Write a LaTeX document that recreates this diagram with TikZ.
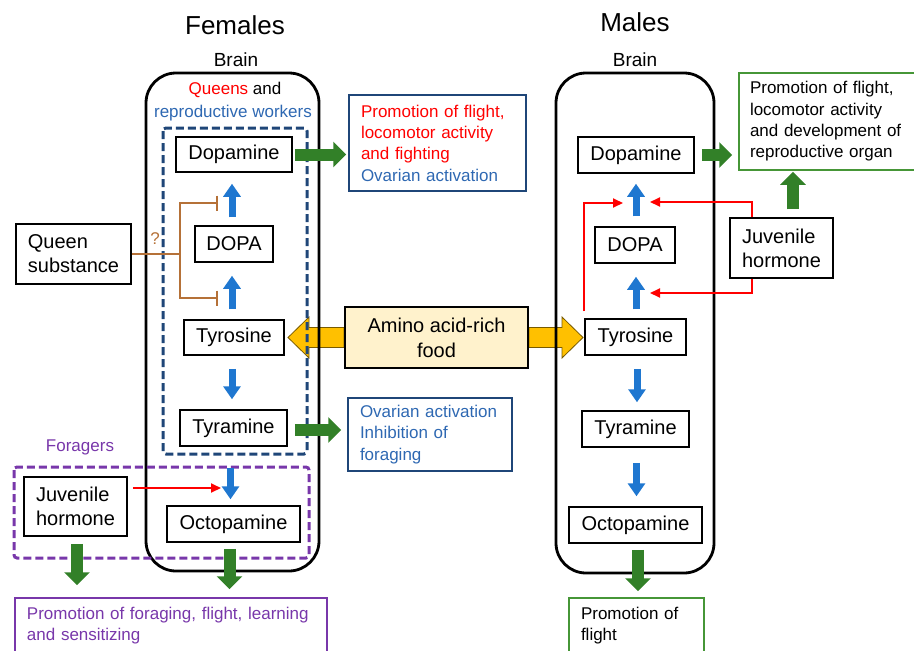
\documentclass[tikz,border=0pt]{standalone}
\usepackage{fontspec}
\setmainfont{Liberation Sans}
\usetikzlibrary{arrows.meta,backgrounds}
\definecolor{blueA}{RGB}{31,119,208}
\definecolor{greenA}{RGB}{50,128,40}
\definecolor{greenB}{RGB}{70,150,55}
\definecolor{navy}{RGB}{31,70,120}
\definecolor{bluetext}{RGB}{46,104,178}
\definecolor{purpleA}{RGB}{120,55,170}
\definecolor{brownC}{RGB}{181,113,56}
\definecolor{foodfill}{RGB}{255,242,204}
\definecolor{yellowA}{RGB}{255,192,0}
\begin{document}
\begin{tikzpicture}[x=1pt,y=-1pt,
  box/.style={draw=black, line width=1.5pt, font=\fontsize{20}{24}\selectfont, inner sep=0pt, align=center},
  lbox/.style={box, align=left},
  effbox/.style={line width=1.5pt, font=\fontsize{17}{21.3}\selectfont, align=left, inner xsep=12pt, inner ysep=0pt},
  brain/.style={draw=black, line width=2.8pt, rounded corners=30pt, inner sep=0pt},
  groupbox/.style={line width=3pt, dash pattern=on 8pt off 4pt, rounded corners=3pt},
  bluearrow/.style={draw=blueA, line width=7pt, -{Triangle[width=17pt,length=13pt]}},
  greenarrow/.style={draw=greenA, line width=12pt, -{Triangle[width=25pt,length=13pt]}},
  redarrow/.style={draw=red, line width=2pt, -{Triangle[width=9pt,length=10pt]}},
  brownline/.style={draw=brownC, line width=2.4pt},
  brownbar/.style={brownline, -{Bar[width=15pt]}},
  yarrow/.style={draw={rgb,255:red,120;green,90;blue,0}, line width=0.8pt, fill=yellowA},
  title/.style={font=\fontsize{26}{30}\selectfont},
  small/.style={font=\fontsize{17}{21}\selectfont},
  brainlbl/.style={font=\fontsize{19}{22}\selectfont}
]
\useasboundingbox (0,0) rectangle (914,651);

% titles
\node[title] (femT) at (235,25) {Females};
\node[title] (malT) at (635,22) {Males};
\node[brainlbl] (brLT) at (236,60) {Brain};
\node[brainlbl] (brRT) at (635,60) {Brain};

% brains
\node[brain, minimum width=173pt, minimum height=498pt] (brainL) at (232.5,322) {};
\node[brain, minimum width=158pt, minimum height=500pt] (brainR) at (635,323) {};

% group labels
\node[small] (queensL) at (235,90) {\textcolor{red}{Queens} and};
\node[small, text=bluetext] (repL) at (233,113) {reproductive workers};
\node[small, text=purpleA] (forL) at (80,447) {Foragers};
\node[small, text=brownC] (qmark) at (155,239) {?};

% dashed groups
\draw[groupbox, navy] (163,128) rectangle (307,454);
\draw[groupbox, purpleA] (14,467) rectangle (309,558);

% left column
\node[box, minimum width=116pt, minimum height=35pt] (dopeL) at (234,154.5) {Dopamine};
\node[box, minimum width=78pt, minimum height=36pt] (dopaL) at (234,244) {DOPA};
\node[box, minimum width=100pt, minimum height=35pt] (tyrL) at (234,337.5) {Tyrosine};
\node[box, minimum width=107pt, minimum height=36pt] (tyraL) at (233.5,428) {Tyramine};
\node[box, minimum width=133pt, minimum height=36pt] (octL) at (233.5,524) {Octopamine};
\node[lbox, minimum width=115pt, minimum height=60pt] (qs) at (73.5,254) {Queen\\substance};
\node[lbox, minimum width=103pt, minimum height=59pt] (jhL) at (75.5,506.5) {Juvenile\\hormone};

% right column
\node[box, minimum width=116pt, minimum height=36pt] (dopeR) at (636,155) {Dopamine};
\node[box, minimum width=80pt, minimum height=36pt] (dopaR) at (635,245) {DOPA};
\node[box, minimum width=101pt, minimum height=36pt] (tyrR) at (635.5,337) {Tyrosine};
\node[box, minimum width=107pt, minimum height=36pt] (tyraR) at (635.5,429) {Tyramine};
\node[box, minimum width=133pt, minimum height=36pt] (octR) at (635.5,525) {Octopamine};
\node[lbox, minimum width=103pt, minimum height=60pt] (jhR) at (781.5,248) {Juvenile\\hormone};

% food
\node[box, fill=foodfill, line width=2pt, minimum width=183pt, minimum height=61pt, font=\fontsize{20}{25}\selectfont] (food) at (436.5,337.5) {Amino acid-rich\\food};

% effect boxes
\node[effbox, draw=navy, text width=153pt, minimum height=96pt] (effD) at (437.5,143)
  {\textcolor{red}{Promotion of flight,}\\\textcolor{red}{locomotor activity}\\\textcolor{red}{and fighting}\\\textcolor{bluetext}{Ovarian activation}};
\node[effbox, draw=navy, text width=140pt, minimum height=73pt, text=bluetext] (effT) at (430,434.5)
  {Ovarian activation\\Inhibition of\\foraging};
\node[effbox, draw=greenB, inner xsep=11pt, text width=162pt, minimum height=97pt] (effM) at (831,121.5)
  {Promotion of flight,\\locomotor activity\\and development of\\reproductive organ};
\node[effbox, draw=purpleA, text=purpleA, text width=288pt, minimum height=55pt] (effF) at (171,625.5)
  {Promotion of foraging, flight, learning\\and sensitizing};
\node[effbox, draw=greenB, text width=111pt, minimum height=55pt] (effO) at (636.5,625.5)
  {Promotion of\\flight};

% yellow arrows (behind)
\begin{scope}[on background layer]
\draw[yarrow] (food.west) ++(0,-10) -- ++(-35,0) -- ++(0,-10.5) -- ++(-21,20.5) -- ++(21,20.5) -- ++(0,-10.5) -- ++(35,0) -- cycle;
\draw[yarrow] (food.east) ++(0,-10) -- ++(33,0) -- ++(0,-10.5) -- ++(21,20.5) -- ++(-21,20.5) -- ++(0,-10.5) -- ++(-33,0) -- cycle;
\end{scope}

% blue arrows left
\draw[bluearrow, shorten <=8pt, shorten >=11pt] ([xshift=-2pt]dopaL.north) -- ([xshift=-2pt]dopaL.north |- dopeL.south);
\draw[bluearrow, shorten <=10pt, shorten >=13pt] ([xshift=-2pt]tyrL.north) -- ([xshift=-2pt]tyrL.north |- dopaL.south);
\draw[bluearrow, shorten <=13pt, shorten >=10pt] ([xshift=-2pt]tyrL.south) -- ([xshift=-2pt]tyrL.south |- tyraL.north);
\draw[bluearrow, shorten <=21pt, shorten >=6pt] ([xshift=-3pt]tyraL.south) -- ([xshift=-3pt]tyraL.south |- octL.north);

% blue arrows right
\draw[bluearrow, shorten <=10pt, shorten >=10pt] ([xshift=1pt]dopaR.north) -- ([xshift=1pt]dopaR.north |- dopeR.south);
\draw[bluearrow, shorten <=9pt, shorten >=13pt] ([xshift=0.5pt]tyrR.north) -- ([xshift=0.5pt]tyrR.north |- dopaR.south);
\draw[bluearrow, shorten <=13pt, shorten >=8pt] ([xshift=1.5pt]tyrR.south) -- ([xshift=1.5pt]tyrR.south |- tyraR.north);
\draw[bluearrow, shorten <=15pt, shorten >=10pt] ([xshift=1pt]tyraR.south) -- ([xshift=1pt]tyraR.south |- octR.north);

% green arrows
\draw[greenarrow, shorten <=2pt, shorten >=2pt] (dopeL.east) -- (dopeL.east -| effD.west);
\draw[greenarrow, shorten <=7pt, shorten >=6pt] ([yshift=-2pt]tyraL.east) -- ([yshift=-2pt]tyraL.east -| effT.west);
\draw[greenarrow, shorten <=6pt, shorten >=8pt] ([xshift=-4pt]octL.south) -- ([xshift=-4pt]octL.south |- effF.north);
\draw[greenarrow, shorten <=7pt, shorten >=12pt] ([xshift=1.5pt]jhL.south) -- ([xshift=1.5pt]jhL.south |- effF.north);
\draw[greenarrow, shorten <=7pt, shorten >=6pt] (dopeR.east) -- (dopeR.east -| effM.west);
\draw[greenarrow, shorten <=8pt, shorten >=1pt] ([xshift=11.5pt]jhR.north) -- ([xshift=11.5pt]jhR.north |- effM.south);
\draw[greenarrow, shorten <=6pt, shorten >=6pt] ([xshift=2.5pt]octR.south) -- ([xshift=2.5pt]octR.south |- effO.north);

% red arrows
\coordinate (cjh) at (221,488);
\coordinate (cr1) at (623,203);
\coordinate (cr2) at (650,202);
\coordinate (cr3) at (650,293);
\draw[redarrow] ([yshift=18.5pt,xshift=5pt]jhL.east) -- (cjh);
\draw[redarrow] ([yshift=7pt]tyrR.north west) |- (cr1);
\draw[redarrow] ([xshift=23pt]jhR.north west) |- (cr2);
\draw[redarrow] ([xshift=23pt]jhR.south west) |- (cr3);

% queen substance inhibition
\coordinate (bj) at (180,254);
\coordinate (bt) at (218,203);
\coordinate (bb) at (218,298);
\draw[brownline] (qs.east) -- (bj);
\draw[brownbar] (bj) |- (bt);
\draw[brownbar] (bj) |- (bb);
\end{tikzpicture}
\end{document}
